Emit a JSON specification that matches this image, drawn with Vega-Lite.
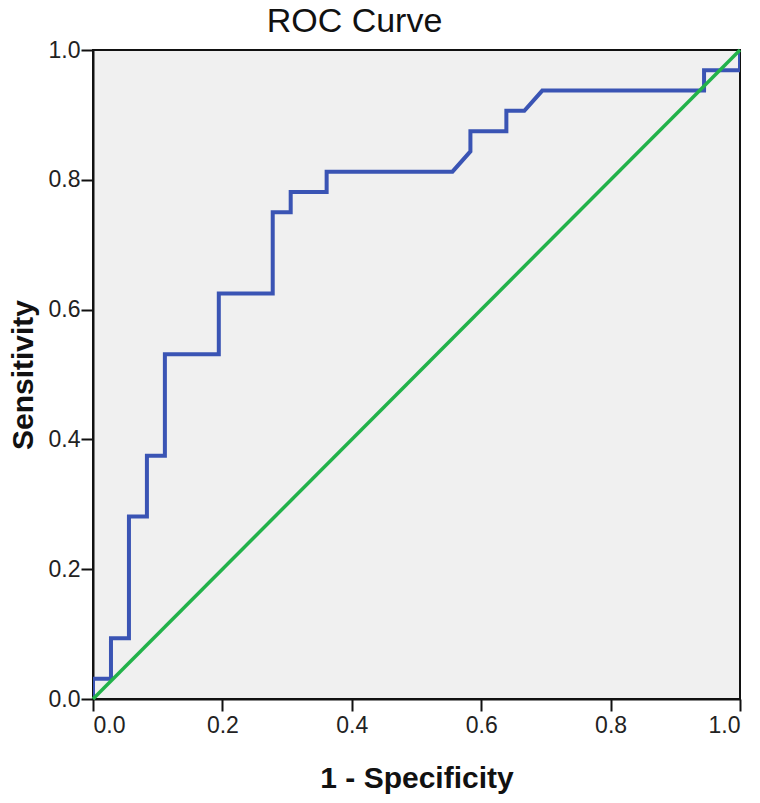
{
  "$schema": "https://vega.github.io/schema/vega-lite/v6.json",
  "autosize": "none",
  "width": 647,
  "height": 649,
  "padding": {"left": 93, "top": 50, "right": 20, "bottom": 104},
  "background": "white",
  "title": {"text": "ROC Curve", "fontSize": 34, "font": "Liberation Sans", "fontWeight": "normal", "color": "#111", "anchor": "middle", "offset": 0, "dx": -62},
  "config": {
    "view": {"fill": "#f0f0f0", "stroke": "#111", "strokeWidth": 2},
    "axis": {"grid": false, "domainColor": "#111", "domainWidth": 2, "tickColor": "#111", "tickWidth": 2, "tickSize": 12, "labelFont": "Liberation Sans", "labelFontSize": 23, "labelColor": "#222", "titleFont": "Liberation Sans", "titleFontSize": 30, "titleFontWeight": "bold", "titleColor": "#111"}
  },
  "layer": [
    {
      "data": {"values": [
        {"i": 0, "fpr": 0, "tpr": 0},
        {"i": 1, "fpr": 0, "tpr": 0.03125},
        {"i": 2, "fpr": 0.02778, "tpr": 0.03125},
        {"i": 3, "fpr": 0.02778, "tpr": 0.09375},
        {"i": 4, "fpr": 0.05556, "tpr": 0.09375},
        {"i": 5, "fpr": 0.05556, "tpr": 0.28125},
        {"i": 6, "fpr": 0.08333, "tpr": 0.28125},
        {"i": 7, "fpr": 0.08333, "tpr": 0.375},
        {"i": 8, "fpr": 0.11111, "tpr": 0.375},
        {"i": 9, "fpr": 0.11111, "tpr": 0.53125},
        {"i": 10, "fpr": 0.19444, "tpr": 0.53125},
        {"i": 11, "fpr": 0.19444, "tpr": 0.625},
        {"i": 12, "fpr": 0.27778, "tpr": 0.625},
        {"i": 13, "fpr": 0.27778, "tpr": 0.75},
        {"i": 14, "fpr": 0.30556, "tpr": 0.75},
        {"i": 15, "fpr": 0.30556, "tpr": 0.78125},
        {"i": 16, "fpr": 0.36111, "tpr": 0.78125},
        {"i": 17, "fpr": 0.36111, "tpr": 0.8125},
        {"i": 18, "fpr": 0.55556, "tpr": 0.8125},
        {"i": 19, "fpr": 0.58333, "tpr": 0.84375},
        {"i": 20, "fpr": 0.58333, "tpr": 0.875},
        {"i": 21, "fpr": 0.63889, "tpr": 0.875},
        {"i": 22, "fpr": 0.63889, "tpr": 0.90625},
        {"i": 23, "fpr": 0.66667, "tpr": 0.90625},
        {"i": 24, "fpr": 0.69444, "tpr": 0.9375},
        {"i": 25, "fpr": 0.94444, "tpr": 0.9375},
        {"i": 26, "fpr": 0.94444, "tpr": 0.96875},
        {"i": 27, "fpr": 1, "tpr": 0.96875},
        {"i": 28, "fpr": 1, "tpr": 1}
      ]},
      "mark": {"type": "line", "color": "#3a54b4", "strokeWidth": 4, "clip": true},
      "encoding": {
        "x": {"field": "fpr", "type": "quantitative", "scale": {"domain": [0, 1]}, "axis": {"values": [0, 0.2, 0.4, 0.6, 0.8, 1], "format": ".1f", "title": "1 - Specificity", "titlePadding": 26, "labelPadding": 3}},
        "y": {"field": "tpr", "type": "quantitative", "scale": {"domain": [0, 1]}, "axis": {"values": [0, 0.2, 0.4, 0.6, 0.8, 1], "format": ".1f", "title": "Sensitivity", "titlePadding": 10, "labelPadding": 1}},
        "order": {"field": "i", "type": "quantitative"}
      }
    },
    {
      "data": {"values": [
        {"fpr": 0, "tpr": 0},
        {"fpr": 1, "tpr": 1}
      ]},
      "mark": {"type": "line", "color": "#22b24a", "strokeWidth": 3.5},
      "encoding": {
        "x": {"field": "fpr", "type": "quantitative"},
        "y": {"field": "tpr", "type": "quantitative"}
      }
    }
  ]
}
